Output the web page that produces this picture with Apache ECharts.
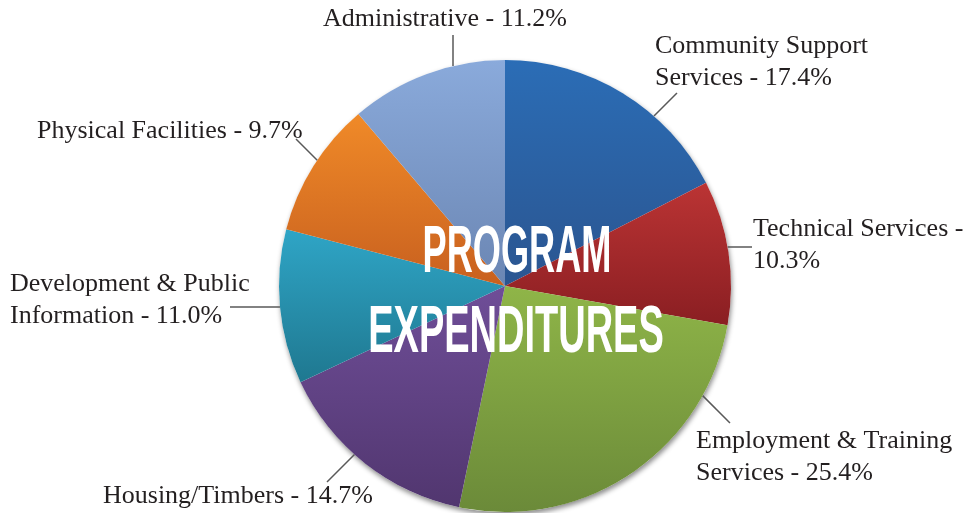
<!DOCTYPE html>
<html>
<head>
<meta charset="utf-8">
<script src="https://cdn.jsdelivr.net/npm/echarts@6/dist/echarts.min.js"></script>
<style>
  html, body { margin: 0; padding: 0; background: #fff; }
  #chart { width: 973px; height: 513px; }
</style>
</head>
<body>
<div id="chart"></div>
<script>
// slices, clockwise from 12 o'clock
const categories = [
  'Community Support Services',
  'Technical Services',
  'Employment & Training Services',
  'Housing/Timbers',
  'Development & Public Information',
  'Physical Facilities',
  'Administrative'
];
const shares = [17.4, 10.3, 25.4, 14.7, 11.0, 9.7, 11.2];
const titleLines = ['PROGRAM', 'EXPENDITURES'];

// top / bottom colour of each slice gradient
const sliceColors = [
  ['#2b6db6', '#2b5590'],
  ['#bb3434', '#8a1e22'],
  ['#8fb548', '#6b8a39'],
  ['#6f4e98', '#51366f'],
  ['#2fa5c6', '#1f7890'],
  ['#f08a28', '#c8601f'],
  ['#8aaadb', '#6b86b3']
];

// label placement (top-left of text block), wrap width, leader end + direction
const labelSpots = [[655, 30], [753, 213], [696, 425], [103, 480], [10, 268], [37, 115], [323, 3]];
const wrapWidths = [250, 230, 290, null, 270, null, null];
const leaders = [
  [677, 93, -1, 1],
  [752, 247, -1, 0],
  [730, 423, -1, -1],
  [327, 482, 1, -1],
  [230, 307, 1, 0],
  [296, 139, 1, 1],
  [453, 35, 0, 1]
];

const CX = 505, CY = 286, R = 226;

// where a leader going from (px,py) along (dx,dy) meets the pie edge
function hitCircle(px, py, dx, dy) {
  const len = Math.hypot(dx, dy);
  dx /= len; dy /= len;
  const ox = px - CX, oy = py - CY;
  const b = ox * dx + oy * dy;
  const c = ox * ox + oy * oy - R * R;
  const t = -b - Math.sqrt(Math.max(b * b - c, 0));
  return [px + t * dx, py + t * dy];
}

const chart = echarts.init(document.getElementById('chart'));

const pieData = categories.map((name, i) => {
  const item = {
    name: name,
    value: shares[i],
    itemStyle: {
      color: new echarts.graphic.LinearGradient(0, 0, 0, 1, [
        { offset: 0, color: sliceColors[i][0] },
        { offset: 1, color: sliceColors[i][1] }
      ])
    }
  };
  if (wrapWidths[i]) {
    item.label = { width: wrapWidths[i], overflow: 'break' };
  }
  return item;
});

chart.setOption({
  animation: false,
  backgroundColor: '#ffffff',
  series: [
    {
      // soft drop shadow under the pie
      type: 'pie',
      center: [CX, CY],
      radius: R,
      silent: true,
      z: 1,
      label: { show: false },
      labelLine: { show: false },
      itemStyle: {
        color: '#ffffff',
        shadowColor: 'rgba(0,0,0,0.45)',
        shadowBlur: 5,
        shadowOffsetX: 1,
        shadowOffsetY: 3
      },
      data: [1]
    },
    {
      type: 'pie',
      center: [CX, CY],
      radius: R,
      startAngle: 90,
      clockwise: true,
      z: 2,
      avoidLabelOverlap: false,
      emphasis: { disabled: true },
      label: {
        show: true,
        position: 'outside',
        fontFamily: '"Liberation Serif", "Times New Roman", serif',
        fontSize: 26,
        lineHeight: 32,
        color: '#231f20',
        formatter: (p) => p.name + ' - ' + p.value.toFixed(1) + '%'
      },
      labelLine: {
        show: true,
        lineStyle: { color: '#595959', width: 1.5 }
      },
      labelLayout: (p) => {
        const i = p.dataIndex;
        const l = leaders[i];
        return {
          x: labelSpots[i][0],
          y: labelSpots[i][1],
          align: 'left',
          verticalAlign: 'top',
          labelLinePoints: [hitCircle(l[0], l[1], l[2], l[3]), [l[0], l[1]]]
        };
      },
      data: pieData
    }
  ],
  graphic: [
    {
      type: 'text',
      x: 517,
      y: 254,
      scaleX: 0.54,
      z: 100,
      style: {
        text: titleLines[0],
        fill: '#ffffff',
        fontFamily: '"Liberation Sans", Arial, sans-serif',
        fontWeight: 'bold',
        fontSize: 67,
        align: 'center',
        verticalAlign: 'middle'
      }
    },
    {
      type: 'text',
      x: 516,
      y: 334,
      scaleX: 0.567,
      z: 100,
      style: {
        text: titleLines[1],
        fill: '#ffffff',
        fontFamily: '"Liberation Sans", Arial, sans-serif',
        fontWeight: 'bold',
        fontSize: 67,
        align: 'center',
        verticalAlign: 'middle'
      }
    }
  ]
});
</script>
</body>
</html>
